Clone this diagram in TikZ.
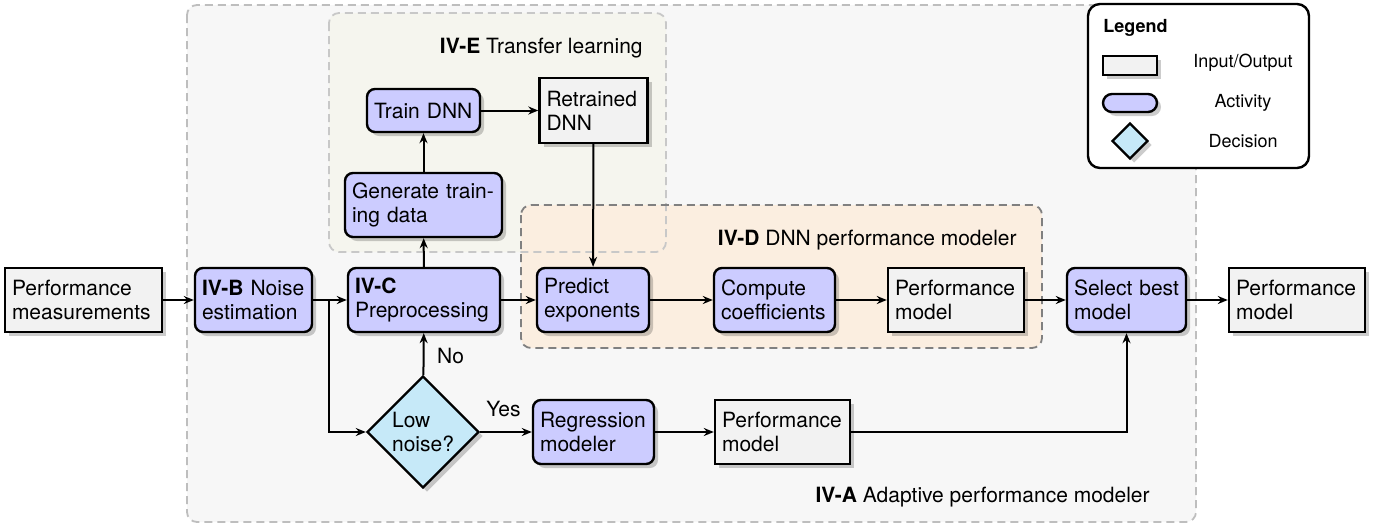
\documentclass[tikz,border=0pt]{standalone}
\usepackage{fontspec}
\setmainfont{TeX Gyre Heros}
\usetikzlibrary{arrows.meta,shapes.geometric,shadows}
\definecolor{actfill}{RGB}{204,204,255}
\definecolor{iofill}{RGB}{242,242,242}
\definecolor{decfill}{RGB}{198,233,248}
\definecolor{outerfill}{RGB}{247,247,247}
\definecolor{outerdraw}{RGB}{190,190,190}
\definecolor{efill}{RGB}{245,245,238}
\definecolor{edraw}{RGB}{200,200,200}
\definecolor{dfill}{RGB}{251,238,224}
\definecolor{ddraw}{RGB}{128,128,128}
\begin{document}
\begin{tikzpicture}[x=0.5pt,y=-0.5pt,
  font=\fontsize{10.5}{12}\selectfont,
  shad/.style={drop shadow={shadow xshift=2pt,shadow yshift=-2pt,fill=black,opacity=0.2}},
  base/.style={draw=black, line width=1.2pt, inner xsep=3.5pt, inner ysep=0pt,
    minimum height=32pt, align=left, shad},
  io/.style={base, fill=iofill, text width=#1},
  act/.style={base, fill=actfill, rounded corners=4pt, text width=#1},
  dec/.style={diamond, aspect=1, draw=black, line width=1.2pt, fill=decfill,
    inner sep=0pt, minimum width=56pt, minimum height=56pt, align=left, shad},
  grp/.style={line width=0.9pt, dash pattern=on 4pt off 2.5pt, rounded corners=5pt},
  conn/.style={line width=1pt, -{Stealth[length=5pt,width=4pt]}},
  lbl/.style={inner sep=0pt, anchor=base east}
]
\useasboundingbox (0,0) rectangle (1385,525);

% group boxes
\draw[grp, draw=outerdraw, fill=outerfill] (187,5) rectangle (1196,522);
\fill[efill, rounded corners=5pt] (329,13) rectangle (666,252);
\fill[dfill, rounded corners=5pt] (521,205) rectangle (1042,348);
\draw[grp, draw=edraw] (329,13) rectangle (666,252);
\draw[grp, draw=ddraw] (521,205) rectangle (1042,348);

\node[lbl] (labE) at (643,53) {\textbf{IV-E} Transfer learning};
\node[lbl] (labD) at (1017,245) {\textbf{IV-D} DNN performance modeler};
\node[lbl] (labA) at (1150,502) {\textbf{IV-A} Adaptive performance modeler};

% nodes
\node[io=71.5pt] (pm) at (83.5,300) {Performance\\measurements};
\node[act=51.5pt] (nb) at (253.5,300) {\textbf{IV-B} Noise\\estimation};
\node[act=69pt] (pre) at (424,300) {\textbf{IV-C}\\Preprocessing};
\node[act=71.5pt] (gen) at (423.5,205) {Generate train-\\ing data};
\node[act=49.5pt, minimum height=21.5pt] (train) at (423.5,110.5) {Train DNN};
\node[io=47pt, minimum height=32.5pt] (ret) at (593.5,110.5) {Retrained\\DNN};
\node[act=49pt] (pred) at (593,300) {Predict\\exponents};
\node[act=53.5pt] (comp) at (774.5,300) {Compute\\coefficients};
\node[io=61pt] (pm1) at (956,300) {Performance\\model};
\node[act=52.5pt] (sel) at (1126.5,300) {Select best\\model};
\node[io=61pt] (pmout) at (1297,300) {Performance\\model};
\node[dec] (low) at (423,432) {Low\\noise?};
\node[act=53.5pt] (reg) at (593.5,432) {Regression\\modeler};
\node[io=60.5pt] (pm2) at (782.5,432) {Performance\\model};

% connectors
\coordinate (j) at (329,300);
\draw[conn] (pm) -- (nb);
\draw[conn] (nb) -- (pre);
\draw[conn] (j) |- (low.west);
\draw[conn] (pre) -- (gen);
\draw[conn] (gen) -- (train);
\draw[conn] (train) -- (ret);
\draw[conn] (ret) -- (pred);
\draw[conn] (pre) -- (pred);
\draw[conn] (pred) -- (comp);
\draw[conn] (comp) -- (pm1);
\draw[conn] (pm1) -- (sel);
\draw[conn] (sel) -- (pmout);
\draw[conn] (low) -- node[pos=0.45, right=3pt] (no) {No} (pre);
\draw[conn] (low) -- node[pos=0.45, above=4pt] (yes) {Yes} (reg);
\draw[conn] (reg) -- (pm2);
\draw[conn] (pm2) -| (sel);

% legend
\begin{scope}[font=\fontsize{9}{11}\selectfont]
\draw[line width=1.2pt, fill=white, rounded corners=6pt] (1088,4) rectangle (1309,168);
\node[anchor=base west, inner sep=0pt] (leg) at (1103,32) {\textbf{Legend}};
\node[draw=black, line width=1.2pt, fill=iofill, minimum width=27pt, minimum height=9.5pt, inner sep=0pt, shad] (lio) at (1130,65.5) {};
\node[draw=black, line width=1.2pt, fill=actfill, minimum width=27pt, minimum height=9pt, inner sep=0pt, rounded corners=4.5pt, shad] (lact) at (1130,103) {};
\node[diamond, aspect=1, draw=black, line width=1.2pt, fill=decfill, minimum width=18pt, minimum height=18pt, inner sep=0pt, shad] (ldec) at (1130,141) {};
\node (tio) at (1243,63) {Input/Output};
\node (tact) at (1243,103) {Activity};
\node (tdec) at (1243,141) {Decision};
\end{scope}
\end{tikzpicture}
\end{document}
